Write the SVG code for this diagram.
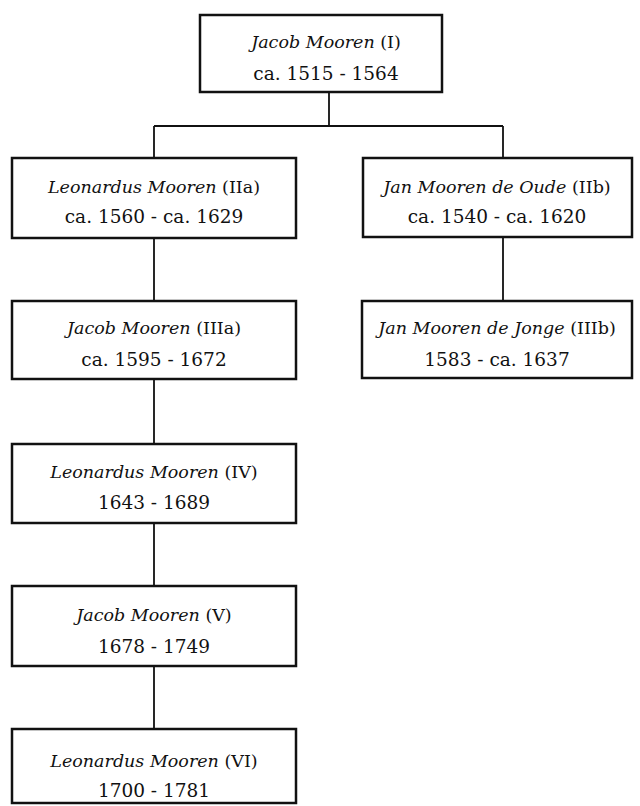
<svg xmlns="http://www.w3.org/2000/svg" width="640" height="806" viewBox="0 0 640 806">
<style>
.box{fill:#fff;stroke:#111;stroke-width:2.5}
.t{font-family:"DejaVu Serif","Liberation Serif",serif;font-size:17.5px;fill:#111;text-anchor:middle}
.d{font-size:18.5px}
.n{font-style:italic}
.c{stroke:#111;stroke-width:1.8;fill:none}
</style>
<rect width="640" height="806" fill="#fff"/>
<g id="connectors">
<path class="c" d="M329 92V126M154 126H503M154 126V158M503 126V158M154 238V301M154 379V444M154 523V586M154 666V729M503 237V301"/>
</g>
<g id="n1"><rect class="box" x="200" y="15" width="242" height="77"/>
<text class="t" x="326" y="48"><tspan class="n">Jacob Mooren</tspan> (I)</text>
<text class="t d" x="326" y="80">ca. 1515 - 1564</text></g>
<g id="n2a"><rect class="box" x="12" y="158" width="284" height="80"/>
<text class="t" x="154" y="193"><tspan class="n">Leonardus Mooren</tspan> (IIa)</text>
<text class="t d" x="154" y="223">ca. 1560 - ca. 1629</text></g>
<g id="n2b"><rect class="box" x="363" y="158" width="269" height="79"/>
<text class="t" x="497" y="193"><tspan class="n">Jan Mooren de Oude</tspan> (IIb)</text>
<text class="t d" x="497" y="223">ca. 1540 - ca. 1620</text></g>
<g id="n3a"><rect class="box" x="12" y="301" width="284" height="78"/>
<text class="t" x="154" y="334"><tspan class="n">Jacob Mooren</tspan> (IIIa)</text>
<text class="t d" x="154" y="366">ca. 1595 - 1672</text></g>
<g id="n3b"><rect class="box" x="362" y="301" width="270" height="77"/>
<text class="t" x="497" y="334"><tspan class="n">Jan Mooren de Jonge</tspan> (IIIb)</text>
<text class="t d" x="497" y="366">1583 - ca. 1637</text></g>
<g id="n4"><rect class="box" x="12" y="444" width="284" height="79"/>
<text class="t" x="154" y="478"><tspan class="n">Leonardus Mooren</tspan> (IV)</text>
<text class="t d" x="154" y="509">1643 - 1689</text></g>
<g id="n5"><rect class="box" x="12" y="586" width="284" height="80"/>
<text class="t" x="154" y="621"><tspan class="n">Jacob Mooren</tspan> (V)</text>
<text class="t d" x="154" y="653">1678 - 1749</text></g>
<g id="n6"><rect class="box" x="12" y="729" width="284" height="74"/>
<text class="t" x="154" y="767"><tspan class="n">Leonardus Mooren</tspan> (VI)</text>
<text class="t d" x="154" y="797">1700 - 1781</text></g>
</svg>
